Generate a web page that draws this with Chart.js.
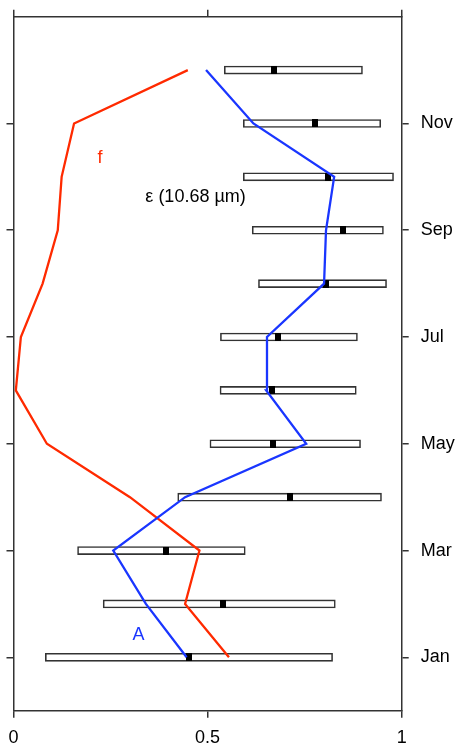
<!DOCTYPE html>
<html>
<head>
<meta charset="utf-8">
<script src="https://cdn.jsdelivr.net/npm/chart.js@4.4.0/dist/chart.umd.min.js"></script>
<style>
  html, body { margin: 0; padding: 0; background: #fff; }
  #wrap { width: 459px; height: 747px; position: relative; }
</style>
</head>
<body>
<div id="wrap"><canvas id="canvas"></canvas></div>
<script>
  // months on the y axis (1 = Jan ... 12 = Dec)
  var months = [1, 2, 3, 4, 5, 6, 7, 8, 9, 10, 11, 12];
  var monthTicks = [1, 3, 5, 7, 9, 11];
  var monthNames = ['Jan', 'Mar', 'May', 'Jul', 'Sep', 'Nov'];
  var xTicks = [0, 0.5, 1];
  var xTickLabels = ['0', '0.5', '1'];

  // emissivity range boxes and the black mark inside each box
  var boxLow  = [0.082, 0.231, 0.165, 0.423, 0.506, 0.532, 0.533, 0.631, 0.615, 0.592, 0.592, 0.543];
  var boxHigh = [0.822, 0.829, 0.597, 0.948, 0.894, 0.883, 0.886, 0.961, 0.953, 0.979, 0.946, 0.899];
  var epsMark = [0.453, 0.539, 0.394, 0.712, 0.669, 0.666, 0.681, 0.805, 0.850, 0.809, 0.777, 0.672];

  // A (blue) and f (red) curves
  var aValues = [0.446, 0.341, 0.257, 0.442, 0.754, 0.651, 0.653, 0.800, 0.805, 0.826, 0.618, 0.496];
  var fValues = [0.555, 0.442, 0.479, 0.300, 0.086, 0.006, 0.019, 0.075, 0.114, 0.124, 0.156, 0.449];

  var FONT = '"Liberation Sans", Arial, Helvetica, sans-serif';
  var AXIS = '#333333';
  var RED = '#ff2a00';
  var BLUE = '#1a36ff';

  var markImg = document.createElement('canvas');
  markImg.width = 6;
  markImg.height = 8;
  var mctx = markImg.getContext('2d');
  mctx.fillStyle = '#000';
  mctx.fillRect(0, 0, 6, 8);

  function pts(vals) {
    return months.map(function (m, i) { return { x: vals[i], y: m }; });
  }

  var boxes = months.map(function (m, i) { return { y: m, x: [boxLow[i], boxHigh[i]] }; });

  var textLabels = {
    id: 'textLabels',
    afterDatasetsDraw: function (chart) {
      var ctx = chart.ctx;
      var xs = chart.scales.x, ys = chart.scales.y;
      ctx.save();
      ctx.font = '18px ' + FONT;
      ctx.textAlign = 'center';
      ctx.textBaseline = 'middle';
      ctx.fillStyle = RED;
      ctx.fillText('f', xs.getPixelForValue(0.223), ys.getPixelForValue(10.36));
      ctx.fillStyle = '#000';
      ctx.fillText('\u03b5 (10.68 \u00b5m)', xs.getPixelForValue(0.469), ys.getPixelForValue(9.63));
      ctx.fillStyle = BLUE;
      ctx.fillText('A', xs.getPixelForValue(0.322), ys.getPixelForValue(1.41));
      ctx.restore();
    }
  };

  function fixTicks(vals) {
    return function (scale) {
      scale.ticks = vals.map(function (v) { return { value: v }; });
    };
  }

  // fixed axis box sizes, no extra padding for labels at the ends
  function fitTo(w, h) {
    return function (s) {
      if (w !== null) s.width = w;
      if (h !== null) s.height = h;
      s.paddingTop = 0; s.paddingBottom = 0;
      s.paddingLeft = 0; s.paddingRight = 0;
    };
  }

  function axisGrid() {
    return { display: true, offset: false, drawOnChartArea: false, drawTicks: true, tickLength: 7, color: AXIS, lineWidth: 1.5 };
  }
  function axisBorder() {
    return { display: true, color: AXIS, width: 1.5 };
  }

  var ctx = document.getElementById('canvas').getContext('2d');
  var chart = new Chart(ctx, {
    type: 'scatter',
    data: {
      datasets: [
        { type: 'line', label: 'A', data: pts(aValues), borderColor: BLUE, borderWidth: 2.3, pointRadius: 0, tension: 0, fill: false, order: 0 },
        { type: 'line', label: 'f', data: pts(fValues), borderColor: RED, borderWidth: 2.3, pointRadius: 0, tension: 0, fill: false, order: 0 },
        { type: 'scatter', label: 'eps', data: pts(epsMark), pointStyle: markImg, pointRadius: 4, order: 1 },
        { type: 'bar', label: 'range', data: boxes, indexAxis: 'y', barThickness: 8,
          backgroundColor: '#ffffff', borderColor: '#333333', borderWidth: 1.6, borderSkipped: false, order: 2 }
      ]
    },
    options: {
      responsive: true,
      maintainAspectRatio: false,
      animation: false,
      layout: { padding: 0 },
      plugins: { legend: { display: false }, tooltip: { enabled: false } },
      scales: {
        x: {
          type: 'linear', position: 'bottom', min: 0, max: 1, offset: false,
          afterBuildTicks: fixTicks(xTicks),
          afterFit: fitTo(null, 36.3),
          grid: axisGrid(), border: axisBorder(),
          ticks: {
            color: '#000', padding: 10, maxRotation: 0, font: { family: FONT, size: 18 },
            callback: function (v) { return xTickLabels[xTicks.indexOf(v)]; }
          }
        },
        x2: {
          type: 'linear', position: 'top', min: 0, max: 1, offset: false,
          afterBuildTicks: fixTicks(xTicks),
          afterFit: fitTo(null, 16.7),
          grid: axisGrid(), border: axisBorder(),
          ticks: { display: false }
        },
        y: {
          type: 'linear', position: 'left', min: 0, max: 13, offset: false,
          afterBuildTicks: fixTicks(monthTicks),
          afterFit: fitTo(13.5, null),
          grid: axisGrid(), border: axisBorder(),
          ticks: { display: false }
        },
        y2: {
          type: 'linear', position: 'right', min: 0, max: 13, offset: false,
          afterBuildTicks: fixTicks(monthTicks),
          afterFit: fitTo(57.3, null),
          grid: axisGrid(), border: axisBorder(),
          ticks: {
            color: '#000', padding: 12, font: { family: FONT, size: 18 },
            callback: function (v) { return monthNames[monthTicks.indexOf(v)]; }
          }
        }
      }
    },
    plugins: [textLabels]
  });
</script>
</body>
</html>
